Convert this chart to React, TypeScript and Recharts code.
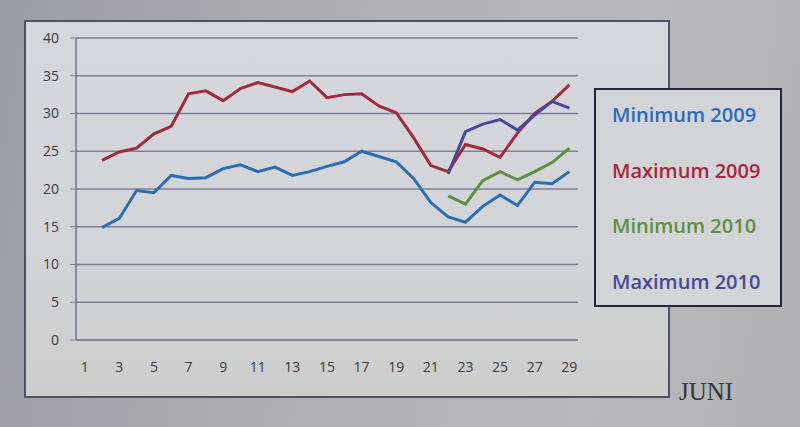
import React from "react";
import { LineChart, Line, XAxis, YAxis, CartesianGrid } from "recharts";

const days = [1, 2, 3, 4, 5, 6, 7, 8, 9, 10, 11, 12, 13, 14, 15, 16, 17, 18, 19, 20, 21, 22, 23, 24, 25, 26, 27, 28, 29];
const min2009 = [null, 14.9, 16.1, 19.8, 19.5, 21.8, 21.4, 21.5, 22.7, 23.2, 22.3, 22.9, 21.8, 22.3, 23.0, 23.6, 25.0, 24.3, 23.6, 21.4, 18.2, 16.3, 15.6, 17.7, 19.2, 17.8, 20.9, 20.7, 22.3];
const max2009 = [null, 23.8, 24.9, 25.4, 27.3, 28.3, 32.6, 33.0, 31.7, 33.3, 34.1, 33.5, 32.9, 34.3, 32.1, 32.5, 32.6, 31.0, 30.1, 26.8, 23.1, 22.3, 25.9, 25.3, 24.2, 27.4, 30.0, 31.6, 33.8];
const min2010 = [null, null, null, null, null, null, null, null, null, null, null, null, null, null, null, null, null, null, null, null, null, 19.1, 18.0, 21.1, 22.3, 21.2, 22.3, 23.5, 25.4];
const max2010 = [null, null, null, null, null, null, null, null, null, null, null, null, null, null, null, null, null, null, null, null, null, 22.0, 27.6, 28.6, 29.2, 27.8, 29.8, 31.6, 30.7];
const yTicks = [0, 5, 10, 15, 20, 25, 30, 35, 40];
const xLabelTicks = [1, 3, 5, 7, 9, 11, 13, 15, 17, 19, 21, 23, 25, 27, 29];
const seriesNames = ["Minimum 2009", "Maximum 2009", "Minimum 2010", "Maximum 2010"];
const seriesColors = ["#2b6db3", "#a2283b", "#5b9141", "#4a4896"];
const xUnit = "JUNI";

const data = days.map((d, i) => ({
  day: d,
  min2009: min2009[i],
  max2009: max2009[i],
  min2010: min2010[i],
  max2010: max2010[i],
}));
const boundaryTicks = [...days.map((d) => d - 0.5), days[days.length - 1] + 0.5];
const keys = ["min2009", "max2009", "min2010", "max2010"];

const font = "'Open Sans', 'Noto Sans', sans-serif";

export default function App() {
  return (
    <div
      style={{
        position: "absolute",
        left: 0,
        top: 0,
        width: 800,
        height: 427,
        overflow: "hidden",
        background: "linear-gradient(100deg, #9c9ca3 0%, #aeaeb3 40%, #b9b9bd 75%, #b1b0b2 100%)",
      }}
    >
      <div
        style={{
          position: "absolute",
          left: 24,
          top: 20,
          width: 646,
          height: 378,
          boxSizing: "border-box",
          border: "2px solid #4f5266",
          background: "linear-gradient(180deg, #d6d7dd 0%, #d3d4d8 60%, #cdcdcc 100%)",
        }}
      />
      <div style={{ position: "absolute", left: 0, top: 0 }}>
        <LineChart width={800} height={427} data={data} margin={{ top: 38, right: 222, left: 20, bottom: 41 }}>
          <CartesianGrid vertical={false} stroke="#7d8197" strokeWidth={1.5} />
          <XAxis
            xAxisId="a"
            dataKey="day"
            type="number"
            domain={[0.5, 29.5]}
            ticks={boundaryTicks}
            tick={false}
            tickSize={5}
            height={6}
            stroke="#7d8197"
            axisLine={{ stroke: "#7d8197", strokeWidth: 1.5 }}
          />
          <XAxis
            xAxisId="b"
            dataKey="day"
            type="number"
            domain={[0.5, 29.5]}
            ticks={xLabelTicks}
            tickLine={false}
            axisLine={false}
            tickMargin={10}
            height={40}
            tick={{ fill: "#3a3b40", fontSize: 14, fontFamily: font }}
          />
          <YAxis
            domain={[0, 40]}
            ticks={yTicks}
            width={56}
            tickSize={6}
            tickMargin={11}
            stroke="#7d8197"
            axisLine={{ stroke: "#6f7388", strokeWidth: 1.5 }}
            tick={{ fill: "#3a3b40", fontSize: 14, fontFamily: font }}
          />
          {keys.map((k, i) => (
            <Line
              key={k}
              xAxisId="a"
              dataKey={k}
              name={seriesNames[i]}
              stroke={seriesColors[i]}
              strokeWidth={3}
              dot={false}
              isAnimationActive={false}
              connectNulls={false}
            />
          ))}
        </LineChart>
      </div>
      <div
        style={{
          position: "absolute",
          left: 594,
          top: 88,
          width: 188,
          height: 219,
          boxSizing: "border-box",
          border: "2px solid #23243a",
          background: "#d3d4d8",
        }}
      >
        {seriesNames.map((n, i) => (
          <div
            key={n}
            style={{
              position: "absolute",
              left: 16,
              top: 11 + i * 55.5,
              fontFamily: font,
              fontSize: 20,
              fontWeight: 600,
              color: seriesColors[i],
              whiteSpace: "nowrap",
            }}
          >
            {n}
          </div>
        ))}
      </div>
      <div
        style={{
          position: "absolute",
          left: 679,
          top: 379,
          lineHeight: 1,
          fontFamily: "'Liberation Serif', 'DejaVu Serif', serif",
          fontSize: 25,
          color: "#35363b",
        }}
      >
        {xUnit}
      </div>
    </div>
  );
}
